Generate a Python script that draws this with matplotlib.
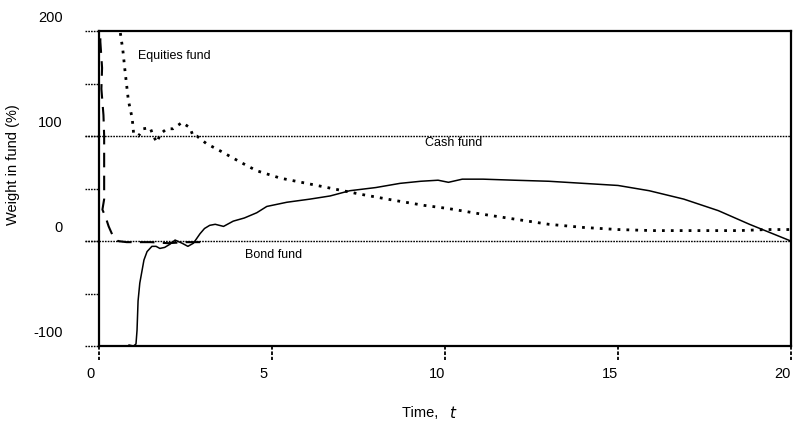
import matplotlib
matplotlib.use("Agg")
import matplotlib.pyplot as plt
import matplotlib.transforms as mtransforms

plt.rcParams['font.family'] = ['Liberation Sans', 'DejaVu Sans']

# Equities fund weight (%)
eq_t = [0.55, 0.61, 0.69, 0.75, 0.85, 0.96, 1.0, 1.14, 1.28, 1.48, 1.57, 1.68, 1.77, 1.96, 2.14,
        2.4, 2.63, 2.72, 2.83, 3.1, 3.5, 3.88, 4.27, 4.56, 5.24, 6.0, 6.6, 7.5, 8.5, 9.4, 10.1,
        11.0, 12.0, 13.0, 14.0, 15.0, 16.0, 17.4, 18.5, 19.3, 20.0]
eq_w = [215, 200, 182, 163, 134, 117, 103, 100, 107, 108, 100, 94, 102, 107, 107,
        113, 108, 100, 100, 93, 86, 79, 72, 67, 60, 55, 51, 45, 39, 34, 31,
        26, 21, 16, 13, 11, 10, 10, 10, 11, 11]

# Bond fund weight (%)
bd_t = [0.87, 1.0, 1.07, 1.1, 1.13, 1.18, 1.24, 1.3, 1.39, 1.53, 1.65, 1.76, 1.9, 2.05, 2.2,
        2.4, 2.57, 2.73, 2.92, 3.05, 3.2, 3.36, 3.6, 3.88, 4.2, 4.56, 4.85, 5.43, 6.1, 6.68,
        7.25, 8.0, 8.7, 9.3, 9.8, 10.1, 10.5, 11.1, 12.0, 13.0, 14.0, 15.0, 15.9, 16.9,
        17.9, 18.8, 19.4, 20.0]
bd_w = [-99, -100, -98, -85, -57, -40, -29, -18, -10, -5, -5, -7, -6, -3, 1,
        -2, -5, -2, 7, 12, 15, 16, 14, 19, 22, 27, 33, 37, 40, 43,
        48, 51, 55, 57, 58, 56, 59, 59, 58, 57, 55, 53, 48, 40,
        29, 16, 8, 0]

# Cash fund weight (%)
ca_t = [0.04, 0.04, 0.09, 0.07, 0.13, 0.15, 0.15, 0.1, 0.2, 0.28, 0.4, 0.55, 0.8, 1.5, 2.0, 2.5, 3.1]
ca_w = [215, 190, 165, 145, 120, 100, 40, 30, 22, 14, 5, 0, -1, -1, -2, -1, -1]

ref_levels = [100, 0]
x_ticks = [0, 5, 10, 15, 20]
y_ticks = [-100, -50, 0, 50, 100, 150, 200]
y_labels = {200: '200', 100: '100', 0: '0', -100: '-100'}

fig = plt.figure(figsize=(7.93, 4.21), dpi=100)
ax = fig.add_axes([0.1248, 0.178, 0.8727, 0.748])

ax.set_xlim(0, 20)
ax.set_ylim(-100, 200)

# reference lines at 100 and 0 (run into the tick area)
for lev in ref_levels:
    ax.plot([-0.02, 1], [lev, lev], transform=ax.get_yaxis_transform(), color='black',
            lw=1.0, linestyle=(0, (1.2, 0.8)), clip_on=False)

ax.plot(eq_t, eq_w, color='black', lw=2.0, linestyle=(0, (1, 2.2)))
ax.plot(bd_t, bd_w, color='black', lw=1.1)
ax.plot(ca_t, ca_w, color='black', lw=1.5, linestyle=(0, (7, 4)))

# dotted tick marks, labels set a bit off the ticks like the original
ax.set_xticks([])
ax.set_yticks([])
up = mtransforms.ScaledTranslation(0, 13 / 100, fig.dpi_scale_trans)
for v in y_ticks:
    ax.plot([-0.02, 0], [v, v], transform=ax.get_yaxis_transform(), color='black',
            lw=1.0, linestyle=(0, (1.2, 0.8)), clip_on=False)
    if v in y_labels:
        ax.text(-0.052, v, y_labels[v], transform=ax.get_yaxis_transform() + up,
                ha='right', va='center', fontsize=10.5)
for v in x_ticks:
    ax.plot([v, v], [0, -0.045], transform=ax.get_xaxis_transform(), color='black',
            lw=1.3, linestyle=(0, (2, 1)), clip_on=False)
    ax.text(v - 0.24, -0.065, str(v), transform=ax.get_xaxis_transform(),
            ha='center', va='top', fontsize=10.5)

for sp in ax.spines.values():
    sp.set_linewidth(1.6)

ax.text(1.13, 176, 'Equities fund', fontsize=9, va='center')
ax.text(9.43, 93, 'Cash fund', fontsize=9, va='center')
ax.text(4.22, -13, 'Bond fund', fontsize=9, va='center')

fig.text(0.558, 0.019, 'Time, ', fontsize=10.5, ha='right', va='center')
fig.text(0.566, 0.019, '$t$', fontsize=11, ha='left', va='center')
fig.text(0.017, 0.61, 'Weight in fund (%)', fontsize=10.5, rotation=90, ha='center', va='center')

fig.savefig('out.png', dpi=100)
